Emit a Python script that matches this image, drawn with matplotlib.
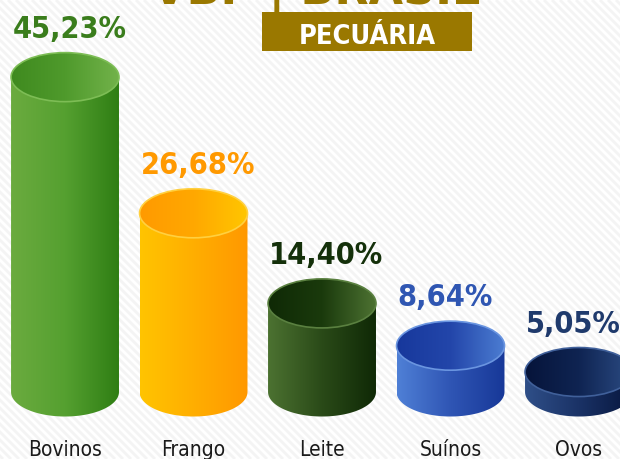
import matplotlib.pyplot as plt
import numpy as np
from matplotlib.colors import LinearSegmentedColormap
from matplotlib.patches import Ellipse, PathPatch, Rectangle
from matplotlib.path import Path
from matplotlib.collections import LineCollection

# VBP Brasil - pecuária, share of each product
categories = ["Bovinos", "Frango", "Leite", "Suínos", "Ovos"]
shares = [45.23, 26.68, 14.40, 8.64, 5.05]
value_labels = ["45,23%", "26,68%", "14,40%", "8,64%", "5,05%"]

label_colors = ["#3a7d1c", "#ff9900", "#14300a", "#2f56b2", "#1f3a6c"]
body_colors = [("#6bab3f", "#55a030", "#2f7e14"),
               ("#ffc400", "#ffae00", "#ff9800"),
               ("#4c7231", "#2a4a18", "#0f2906"),
               ("#4f80d6", "#2f55b4", "#173898"),
               ("#2f4f88", "#1a3266", "#07163d")]
top_colors = [("#3f8a1f", "#4f9a2c", "#72b24a"),
              ("#ff9a00", "#ffa800", "#ffc600"),
              ("#0f2906", "#1a3a0c", "#4d7232"),
              ("#17389c", "#2346aa", "#4c7dd2"),
              ("#06143a", "#0f2452", "#2c4c84")]
rim_colors = ["#7dbd55", "#ffd040", "#5a8040", "#6a95e0", "#40609a"]

BASE = 2.33   # floor the cylinders stand on
HALF_W = 0.42
RY = 3.34

fig = plt.figure(figsize=(6.2, 4.59), dpi=100)
fig.patch.set_facecolor("white")
ax = fig.add_axes([0, 0, 1, 1])
ax.axis("off")

# faint diagonal stripes in the background
offs = np.arange(-0.8, 1.05, 8 / 620)
segs = [[(a, 1), (a + 459 / 620, 0)] for a in offs]
ax.add_collection(LineCollection(segs, colors="#f4f4f4", linewidths=2.0,
                                 transform=ax.transAxes, zorder=0))

grad = np.linspace(0, 1, 256).reshape(1, -1)

for i, v in enumerate(shares):
    x = i
    top = v
    t = np.linspace(np.pi, 2 * np.pi, 80)
    verts = [(x - HALF_W, top)]
    verts += list(zip(x + HALF_W * np.cos(t), BASE + RY * np.sin(t)))
    verts += [(x + HALF_W, top), (x - HALF_W, top)]
    body = PathPatch(Path(verts), facecolor="none", edgecolor="none")
    ax.add_patch(body)
    cm = LinearSegmentedColormap.from_list("b%d" % i, body_colors[i])
    im = ax.imshow(grad, cmap=cm, extent=[x - HALF_W, x + HALF_W, BASE - RY, top],
                   aspect="auto", zorder=2, interpolation="bilinear")
    im.set_clip_path(body)

    ell = Ellipse((x, top), 2 * HALF_W, 2 * RY, facecolor="none",
                  edgecolor=rim_colors[i], lw=1.2, zorder=4)
    ax.add_patch(ell)
    cm2 = LinearSegmentedColormap.from_list("t%d" % i, top_colors[i])
    im2 = ax.imshow(grad, cmap=cm2, extent=[x - HALF_W, x + HALF_W, top - RY, top + RY],
                    aspect="auto", zorder=3, interpolation="bilinear")
    im2.set_clip_path(ell)

    ax.text(x - HALF_W + 0.01, top + RY + 2.0, value_labels[i], ha="left", va="baseline",
            fontsize=22, fontweight="bold", fontstretch="condensed",
            color=label_colors[i], zorder=5)
    ax.text(x, -6.39, categories[i], ha="center", va="baseline", fontsize=15,
            fontstretch="condensed", color="#1a1a1a")

ax.set_xlim(-0.506, 4.319)
ax.set_ylim(-6.80, 55.74)

# header
ax.text(316 / 620, 1 - 4 / 459, "VBP | BRASIL", transform=ax.transAxes, ha="center",
        va="baseline", fontsize=32, fontweight="bold", color="#9a7800")
ax.add_patch(Rectangle((262 / 620, 1 - 51 / 459), 210 / 620, 39 / 459,
                       transform=ax.transAxes, facecolor="#9a7800", edgecolor="none", zorder=5))
ax.text(367 / 620, 1 - 44 / 459, "PECUÁRIA", transform=ax.transAxes, ha="center",
        va="baseline", fontsize=19.5, fontweight="bold", fontstretch="condensed",
        color="white", zorder=6)

fig.savefig("out.png", dpi=100)
